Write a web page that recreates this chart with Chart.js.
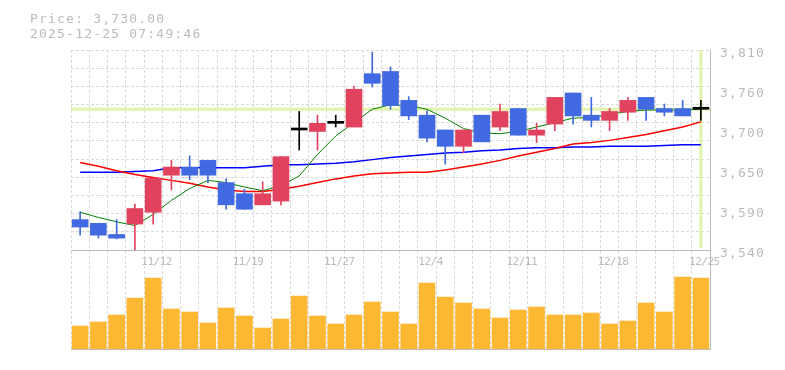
<!DOCTYPE html>
<html><head><meta charset="utf-8">
<script src="https://cdn.jsdelivr.net/npm/chart.js@4.4.1/dist/chart.umd.min.js"></script>
<style>
html,body{margin:0;padding:0;background:#fff;}
#wrap{position:relative;width:785px;height:370px;overflow:hidden;background:#fff;}
canvas{position:absolute;left:0;top:0;}
.t{position:absolute;left:30px;font:13px/15px "DejaVu Sans Mono",monospace;letter-spacing:1.2px;color:#bbbbbb;white-space:pre;}
</style></head><body>
<div id="wrap">
<canvas id="vol" width="785" height="370"></canvas>
<canvas id="main" width="785" height="370"></canvas>
<div class="t" style="top:11px">Price: 3,730.00</div>
<div class="t" style="top:26px">2025-12-25 07:49:46</div>
</div>
<script>
// ---- data ----
const dates = ['11/6','11/7','11/10','11/11','11/12','11/13','11/14','11/17','11/18','11/19',
  '11/20','11/21','11/25','11/26','11/27','11/28','12/1','12/2','12/3','12/4',
  '12/5','12/8','12/9','12/10','12/11','12/12','12/15','12/16','12/17','12/18',
  '12/19','12/22','12/23','12/24','12/25'];
const xTickLabels = ['11/12','11/19','11/27','12/4','12/11','12/18','12/25'];
const opens  = [3581,3576,3561,3575,3591,3641,3652,3661,3631,3616,3601,3606,3702,3700,3711,3706,3778,3781,3742,3722,3702,3680,3722,3706,3731,3695,3710,3752,3722,3715,3726,3746,3731,3731,3730];
const highs  = [3592,3576,3581,3602,3637,3661,3667,3661,3636,3622,3632,3666,3727,3722,3722,3761,3807,3787,3747,3728,3702,3702,3722,3737,3731,3711,3746,3752,3746,3731,3746,3746,3737,3742,3742];
const lows   = [3560,3556,3555,3540,3575,3621,3635,3631,3595,3595,3601,3601,3675,3675,3706,3706,3760,3730,3716,3686,3656,3671,3686,3701,3695,3685,3701,3710,3706,3701,3715,3715,3721,3721,3715];
const closes = [3571,3560,3556,3596,3637,3652,3641,3641,3601,3595,3616,3666,3702,3711,3711,3757,3765,3735,3721,3691,3680,3702,3686,3727,3695,3702,3746,3721,3715,3727,3742,3730,3726,3721,3730];
const ma5  = [3591,3584,3578,3573,3588,3607,3623,3634,3631,3625,3620,3627,3640,3669,3694,3712,3730,3736,3735,3730,3718,3704,3698,3697,3700,3706,3712,3718,3719,3723,3727,3729,3729,3729,3730];
const ma25 = [3658,3653,3647,3642,3638,3634,3630,3625,3621,3619,3619,3622,3626,3631,3636,3640,3643,3644,3645,3645,3648,3652,3656,3661,3667,3672,3677,3683,3685,3688,3692,3696,3701,3706,3713];
const ma75 = [3645,3645,3645,3646,3647,3651,3651,3651,3651,3651,3653,3655,3655,3656,3657,3659,3662,3665,3667,3669,3671,3672,3674,3675,3677,3678,3678,3679,3679,3680,3680,3680,3681,3682,3682];
const volumes = [23,27,34,51,71,40,37,26,41,33,21,30,53,33,25,34,47,37,25,66,52,46,40,31,39,42,34,34,36,25,28,46,37,72,71];
const lastPrice = 3730;
const yTickValues = [3540,3594,3648,3702,3756,3810];
const yTickLabels = ['3,540','3,590','3,650','3,700','3,760','3,810'];
const yMin = 3540, yMax = 3810;

// ---- styles ----
const UP = '#e1435f', DOWN = '#4169e1', FLAT = '#000000';
const GRID = '#dadada', AXIS = '#bbbbbb', TEXT = '#bbbbbb';
const candleColors = opens.map((o,i)=> closes[i] > o ? UP : (closes[i] < o ? DOWN : FLAT));

const markerPlugin = {
  id: 'marker',
  beforeDatasetsDraw(chart){
    const {ctx, chartArea:a, scales} = chart;
    const py = scales.y.getPixelForValue(lastPrice);
    const px = scales.x.getPixelForValue(dates.length - 1);
    ctx.save();
    ctx.strokeStyle = '#e2f4ab';
    ctx.lineWidth = 3;
    ctx.beginPath();
    ctx.moveTo(a.left, py); ctx.lineTo(a.right, py);
    ctx.moveTo(px, a.top); ctx.lineTo(px, a.bottom - 2);
    ctx.stroke();
    ctx.restore();
  }
};
const spacingPlugin = {
  id: 'spacing',
  beforeDraw(chart){
    const set = (s, sp) => {
      if (!s || s._sp) return;
      const orig = s.drawLabels.bind(s);
      s.drawLabels = function(area){
        const c = this.ctx; const prev = c.letterSpacing;
        c.letterSpacing = sp; orig(area); c.letterSpacing = prev || '0px';
      };
      s._sp = true;
    };
    set(chart.scales.y, '1.2px');
    set(chart.scales.x, '-0.5px');
  }
};

Chart.defaults.animation = false;

new Chart(document.getElementById('main'), {
  type: 'bar',
  data: {
    labels: dates,
    datasets: [
      {type:'line', label:'MA75', data: ma75, borderColor:'#0000ff', borderWidth:1.5, pointRadius:0, tension:0, order:4},
      {type:'line', label:'MA25', data: ma25, borderColor:'#ff0000', borderWidth:1.5, pointRadius:0, tension:0, order:3},
      {type:'line', label:'MA5', data: ma5, borderColor:'#008000', borderWidth:1, pointRadius:0, tension:0, order:2},
      {type:'bar', label:'High-Low', data: lows.map((l,i)=>[l, highs[i]]), backgroundColor: candleColors, barThickness:1, grouped:false, order:1},
      {type:'bar', label:'Open-Close', data: opens.map((o,i)=>[o, closes[i]]), backgroundColor: candleColors, barThickness:16, grouped:false, minBarLength:2, order:0}
    ]
  },
  options: {
    responsive:false, devicePixelRatio:1, animation:false, events:[],
    layout:{padding:{top:50, left:71, right:0, bottom:100}},
    plugins:{legend:{display:false}, tooltip:{enabled:false}},
    scales:{
      x:{type:'category', offset:true,
         grid:{offset:true, color:GRID, drawTicks:false},
         border:{display:true, color:AXIS, dash:[3,2]},
         ticks:{autoSkip:false, maxRotation:0, minRotation:0, padding:6, labelOffset:3.5, color:TEXT,
                font:{family:'DejaVu Sans Mono', size:11},
                callback:(v,i)=> xTickLabels.includes(dates[i]) ? dates[i] : ''},
         afterFit:s=>{s.height = 20;}},
      y:{position:'right', min:yMin, max:yMax,
         grid:{display:false, drawTicks:false},
         border:{display:true, color:AXIS},
         afterBuildTicks:s=>{ s.ticks = yTickValues.map(v=>({value:v})); },
         ticks:{padding:10, labelOffset:4, color:TEXT, font:{family:'DejaVu Sans Mono', size:13},
                callback:(v,i)=> yTickLabels[i]},
         afterFit:s=>{s.width = 75;}},
      yg:{position:'right', min:yMin, max:yMax,
         grid:{color:GRID, drawTicks:false},
         border:{display:false, dash:[3,2]},
         ticks:{display:false},
         afterBuildTicks:s=>{ s.ticks = Array.from({length:12}, (_,i)=>({value: yMin + (yMax-yMin)*i/11})); },
         afterFit:s=>{s.width = 0;}}
    }
  },
  plugins:[markerPlugin, spacingPlugin]
});

new Chart(document.getElementById('vol'), {
  type:'bar',
  data:{labels: dates, datasets:[{label:'Volume', data: volumes, backgroundColor:'#fdb833', barThickness:16}]},
  options:{
    responsive:false, devicePixelRatio:1, animation:false, events:[],
    layout:{padding:{top:251, left:71, right:0, bottom:21}},
    plugins:{legend:{display:false}, tooltip:{enabled:false}},
    scales:{
      x:{offset:true, grid:{offset:true, color:GRID, drawTicks:false},
         border:{display:true, color:AXIS, dash:[3,2]},
         ticks:{display:false}, afterFit:s=>{s.height = 0;}},
      y:{position:'right', min:0, max:98, grid:{display:false, drawTicks:false},
         border:{display:true, color:AXIS}, ticks:{display:false}, afterFit:s=>{s.width = 75;}}
    }
  }
});
</script>
</body></html>
